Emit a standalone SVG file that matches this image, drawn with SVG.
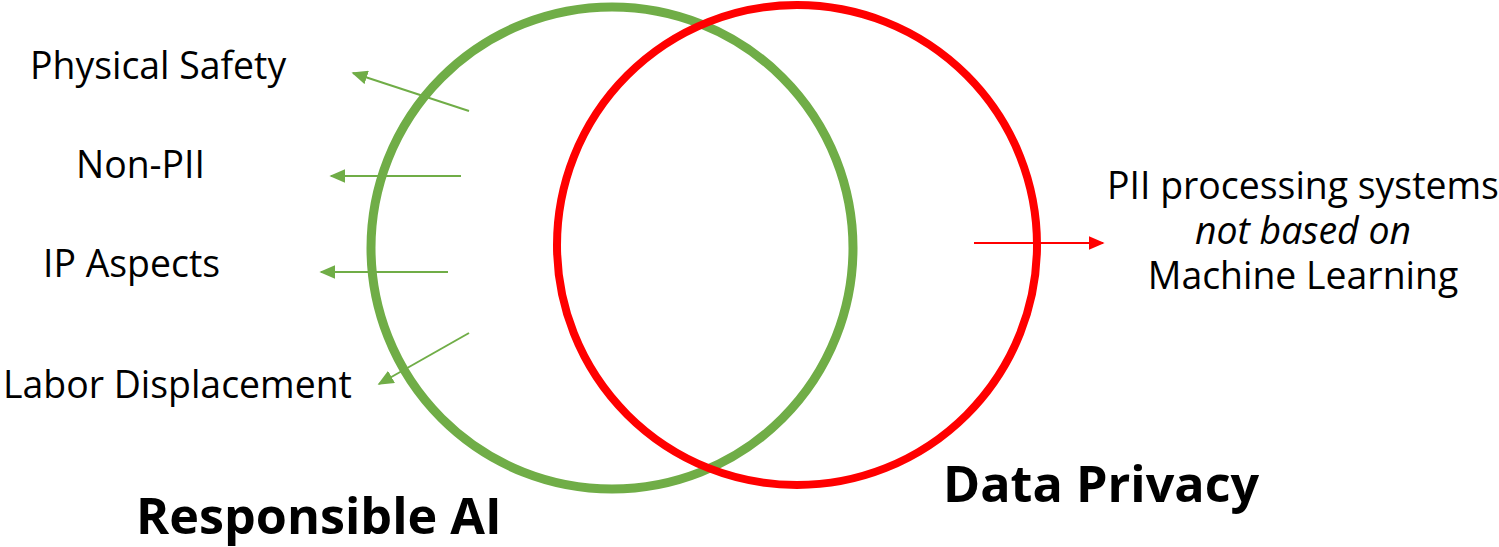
<svg xmlns="http://www.w3.org/2000/svg" width="1499" height="547" viewBox="0 0 1499 547">
<defs>
<style>
.lbl{font-family:"Open Sans","Liberation Sans",sans-serif;font-size:37.4px;fill:#000}
.ttl{font-family:"Open Sans","Liberation Sans",sans-serif;font-size:50.3px;font-weight:bold;fill:#000}
.g{stroke:#70AD47;stroke-width:2;fill:none}
.r{stroke:#FF0000;stroke-width:2;fill:none}
</style>
<marker id="ag" viewBox="0 0 10 10" refX="9" refY="5" markerWidth="8" markerHeight="7" orient="auto" markerUnits="strokeWidth" preserveAspectRatio="none"><path d="M0,0L10,5L0,10z" fill="#70AD47"/></marker>
<marker id="ar" viewBox="0 0 10 10" refX="9" refY="5" markerWidth="8" markerHeight="7" orient="auto" markerUnits="strokeWidth" preserveAspectRatio="none"><path d="M0,0L10,5L0,10z" fill="#FF0000"/></marker>
</defs>
<rect width="1499" height="547" fill="#fff"/>
<g id="responsible-ai">
<circle cx="612" cy="248" r="241" fill="none" stroke="#70AD47" stroke-width="9"/>
<text class="ttl" x="136" y="534">Responsible AI</text>
</g>
<g id="data-privacy">
<circle cx="797" cy="245" r="240" fill="none" stroke="#FF0000" stroke-width="8"/>
<text class="ttl" x="943" y="502">Data Privacy</text>
</g>
<g id="physical-safety"><text class="lbl" x="30" y="79">Physical Safety</text></g>
<g id="non-pii"><text class="lbl" x="76" y="178">Non-PII</text></g>
<g id="ip-aspects"><text class="lbl" x="43" y="277">IP Aspects</text></g>
<g id="labor-displacement"><text class="lbl" x="3" y="398">Labor Displacement</text></g>
<g id="pii-processing">
<text class="lbl" text-anchor="middle" x="1303" y="199">PII processing systems</text>
<text class="lbl" text-anchor="middle" x="1303" y="244" font-style="italic">not based on</text>
<text class="lbl" text-anchor="middle" x="1303" y="289">Machine Learning</text>
</g>
<g id="connectors">
<line class="g" x1="469" y1="111" x2="353" y2="73" marker-end="url(#ag)"/>
<line class="g" x1="461" y1="176" x2="331" y2="176" marker-end="url(#ag)"/>
<line class="g" x1="448" y1="272" x2="321" y2="272" marker-end="url(#ag)"/>
<line class="g" x1="469" y1="333" x2="379" y2="384" marker-end="url(#ag)"/>
<line class="r" x1="974" y1="243" x2="1103" y2="243" marker-end="url(#ar)"/>
</g>
</svg>
